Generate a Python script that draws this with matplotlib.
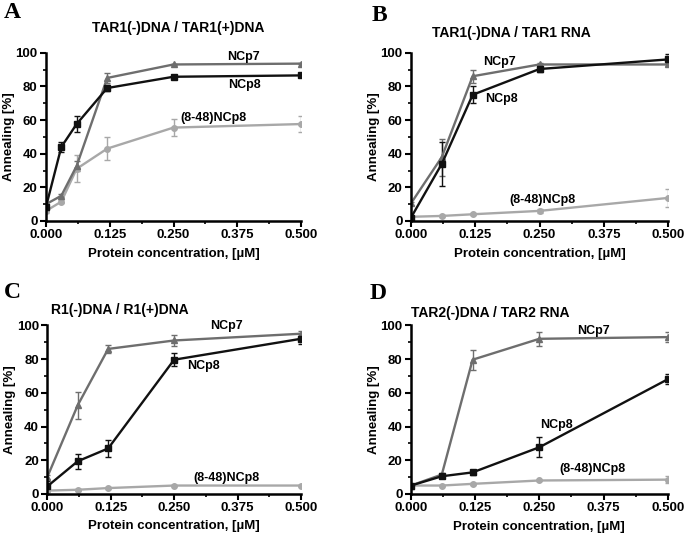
import matplotlib.pyplot as plt
from matplotlib.ticker import MultipleLocator
import numpy as np

plt.rcParams['font.family'] = ['Liberation Sans', 'DejaVu Sans']
plt.rcParams['font.weight'] = 'bold'

# protein concentrations [uM]
conc_a = [0.0, 0.03, 0.06, 0.12, 0.25, 0.5]
conc = [0.0, 0.06, 0.12, 0.25, 0.5]

# panel A: TAR1(-)DNA / TAR1(+)DNA
a_ncp7 = [10, 15, 32.7, 85, 93, 93.5]
a_ncp7_err = [1, 1, 3, 3, 0.5, 0.5]
a_ncp8 = [8.5, 44, 57.6, 79, 85.7, 86.5]
a_ncp8_err = [1.5, 3, 5, 2, 0.5, 0.5]
a_trunc = [6, 11.5, 31, 43, 55.5, 57.6]
a_trunc_err = [1, 1, 8, 7, 5, 4.5]

# panel B: TAR1(-)DNA / TAR1 RNA
b_ncp7 = [10.5, 38, 86, 93, 93]
b_ncp7_err = [1, 11, 4, 1, 1]
b_ncp8 = [2, 34, 75, 90.3, 96]
b_ncp8_err = [1, 13, 5, 2, 3]
b_trunc = [2.5, 3, 4, 6, 13.7]
b_trunc_err = [0.5, 0.5, 0.5, 1, 5.5]

# panel C: R1(-)DNA / R1(+)DNA
c_ncp7 = [10, 52.6, 86, 91, 95]
c_ncp7_err = [1, 8, 2.5, 3, 1.5]
c_ncp8 = [4.5, 19.4, 27, 79.6, 92]
c_ncp8_err = [3, 4.5, 5, 4, 3]
c_trunc = [2, 2.5, 3.5, 5, 5]
c_trunc_err = [0.5, 0.5, 0.5, 0.5, 0.5]

# panel D: TAR2(-)DNA / TAR2 RNA
d_ncp7 = [5, 11.5, 79.6, 92, 93]
d_ncp7_err = [1, 1, 6, 4, 3]
d_ncp8 = [5, 10.5, 12.8, 27.7, 68]
d_ncp8_err = [1, 1, 1.5, 6, 3]
d_trunc = [5, 5, 6, 8, 8.5]
d_trunc_err = [0.5, 0.5, 0.5, 0.5, 2]

c7 = '#6e6e6e'
c8 = '#111111'
ct = '#a8a8a8'

fig = plt.figure(figsize=(6.85, 5.36), dpi=100)

# letter, title, x, series..., axes rect, label positions, letter pos, title pos, ylabel x, xlabel y
panels = [
    ('A', 'TAR1(-)DNA / TAR1(+)DNA', conc_a, a_ncp7, a_ncp7_err, a_ncp8, a_ncp8_err, a_trunc, a_trunc_err,
     [0.0672, 0.5877, 0.3722, 0.3140], [(0.387, 97.6), (0.389, 80.6), (0.328, 61)],
     (0.005, 0.977), (0.260, 0.948), -0.122, -0.161),
    ('B', 'TAR1(-)DNA / TAR1 RNA', conc, b_ncp7, b_ncp7_err, b_ncp8, b_ncp8_err, b_trunc, b_trunc_err,
     [0.6000, 0.5877, 0.3752, 0.3140], [(0.172, 94.3), (0.175, 72.7), (0.255, 12.3)],
     (0.543, 0.972), (0.747, 0.938), -0.121, -0.161),
    ('C', 'R1(-)DNA / R1(+)DNA', conc, c_ncp7, c_ncp7_err, c_ncp8, c_ncp8_err, c_trunc, c_trunc_err,
     [0.0690, 0.0784, 0.3704, 0.3147], [(0.354, 99.8), (0.307, 76), (0.353, 9.5)],
     (0.005, 0.455), (0.175, 0.422), -0.125, -0.152),
    ('D', 'TAR2(-)DNA / TAR2 RNA', conc, d_ncp7, d_ncp7_err, d_ncp8, d_ncp8_err, d_trunc, d_trunc_err,
     [0.6000, 0.0784, 0.3748, 0.3147], [(0.356, 96.4), (0.284, 41), (0.353, 14.8)],
     (0.540, 0.452), (0.716, 0.416), -0.121, -0.160),
]

for (letter, title, x, y7, e7, y8, e8, yt, et, rect, lab, lpos, tpos, ylx, xly) in panels:
    ax = fig.add_axes(rect)
    ax.errorbar(x, yt, yerr=et, color=ct, marker='o', ms=4, lw=1.7, capsize=2.5, elinewidth=1)
    ax.errorbar(x, y7, yerr=e7, color=c7, marker='^', ms=4, lw=1.7, capsize=2.5, elinewidth=1)
    ax.errorbar(x, y8, yerr=e8, color=c8, marker='s', ms=4.5, lw=1.7, capsize=2.5, elinewidth=1)
    ax.set_xlim(0, 0.5)
    ax.set_ylim(0, 100)
    ax.xaxis.set_major_locator(MultipleLocator(0.125))
    ax.xaxis.set_minor_locator(MultipleLocator(0.0625))
    ax.yaxis.set_major_locator(MultipleLocator(20))
    ax.yaxis.set_minor_locator(MultipleLocator(10))
    ax.set_xticklabels(['%.3f' % t for t in ax.get_xticks()])
    for s in ['top', 'right']:
        ax.spines[s].set_visible(False)
    for s in ['left', 'bottom']:
        ax.spines[s].set_linewidth(1.8)
    ax.tick_params(which='major', length=4, width=1.5, labelsize=9.5, pad=2)
    ax.tick_params(which='minor', length=2.5, width=1.2)
    for t in ax.get_xticklabels() + ax.get_yticklabels():
        t.set_fontweight('bold')
    ax.set_xlabel('Protein concentration, [µM]', fontsize=9.5, fontweight='bold')
    ax.set_ylabel('Annealing [%]', fontsize=9.5, fontweight='bold')
    ax.yaxis.set_label_coords(ylx, 0.5)
    ax.xaxis.set_label_coords(0.5, xly)
    for name, (lx, ly) in zip(['NCp7', 'NCp8', '(8-48)NCp8'], lab):
        ax.text(lx, ly, name, ha='center', va='center', fontsize=9, fontweight='bold')
    fig.text(lpos[0], lpos[1], letter, family='Liberation Serif', fontsize=17, fontweight='bold', va='center')
    fig.text(tpos[0], tpos[1], title, ha='center', va='center', fontsize=10, fontweight='bold')

fig.savefig('out.png', dpi=100)
